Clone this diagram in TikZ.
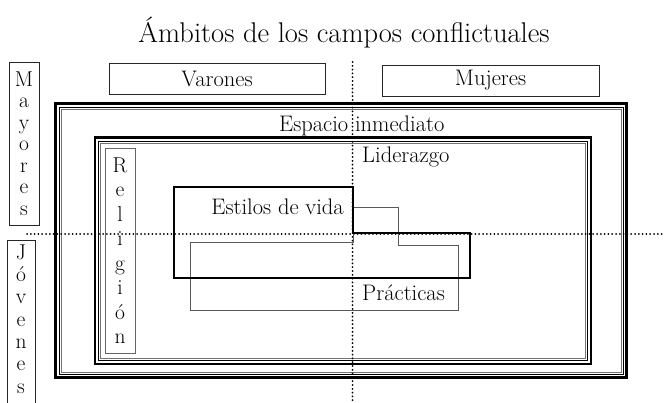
\documentclass[tikz,border=0pt]{standalone}
\usetikzlibrary{positioning}

\tikzset{
  txt/.style={font=\fontsize{22.5}{26}\selectfont, inner sep=0pt},
  labelbox/.style={draw=black!85, line width=0.9pt, inner sep=0pt},
  vertbox/.style={labelbox, align=center},
  framethick/.style={line width=2.2pt},
  framethin/.style={line width=0.7pt},
  axisdots/.style={line width=2pt, line cap=round, dash pattern=on 0pt off 3.8pt},
}

\begin{document}
\begin{tikzpicture}[x=1pt,y=-1pt]
\useasboundingbox (0,0) rectangle (666,403);

% --- Titolo ---
\node[font=\fontsize{28.5}{32}\selectfont, anchor=base, inner sep=0pt] (titulo) at (344,43) {Ámbitos de los campos conflictuales};

% --- Cornici: espacio inmediato e liderazgo ---
\draw[framethick] (55.5,103.5) rectangle (626.5,377.5);
\draw[framethin] (59,107) rectangle (623,374);
\draw[framethin, black!55] (61,109) rectangle (621,372);

\draw[framethick] (95,137.5) rectangle (591,364);
\draw[framethin] (98.5,141) rectangle (587.5,360.5);
\draw[framethin, black!55] (100.5,143) rectangle (585.5,358.5);

% --- Assi punteggiati ---
\coordinate (vtop) at (352.5,62);
\coordinate (vbot) at (352.5,403);
\coordinate (hleft) at (27,234);
\coordinate (hright) at (664,234);
\draw[axisdots] (vtop) -- (vbot);
\draw[axisdots] (hleft) -- (hright);

% --- Etichette in alto ---
\node[labelbox, txt, minimum width=216pt, minimum height=31pt] (varones) at (217,78.5) {Varones};
\node[labelbox, txt, minimum width=217pt, minimum height=31pt] (mujeres) at (490.5,80.5) {Mujeres};

% --- Etichette verticali ---
\node[vertbox, txt, font=\fontsize{21.5}{21.5}\selectfont, minimum width=30pt, minimum height=163pt] (mayores) at (24,143.5) {M\\a\\y\\o\\r\\e\\s};
\draw[draw=black!85, line width=0.9pt] (7,410) |- (35,240) -- (35,410);
\node[txt, align=center, font=\fontsize{21.5}{22.3}\selectfont] (jovenes) at (21,319) {J\\ó\\v\\e\\n\\e\\s};
\node[vertbox, txt, draw=black!60, font=\fontsize{21.5}{24.5}\selectfont, minimum width=30pt, minimum height=205pt] (religion) at (120,250.5) {R\\e\\l\\i\\g\\i\\ó\\n};

% --- Campi ---
\node[txt, anchor=base west] (espacio) at (279,132) {Espacio inmediato};
\node[txt, anchor=base west] (liderazgo) at (362,163) {Liderazgo};

\draw[line width=0.8pt, black!65] (190,242) -- (353,242) -- (353,207) -- (398,207) -- (398,245)
  -- (458,245) -- (458,310) -- (190,310) -- cycle;
\draw[line width=2.2pt] (174,187) -- (353,187) -- (353,233) -- (470,233) -- (470,278)
  -- (174,278) -- cycle;

\node[txt, anchor=base east] (estilos) at (344,215) {Estilos de vida};
\node[txt, anchor=base west] (practicas) at (362,300) {Prácticas};

\end{tikzpicture}
\end{document}
